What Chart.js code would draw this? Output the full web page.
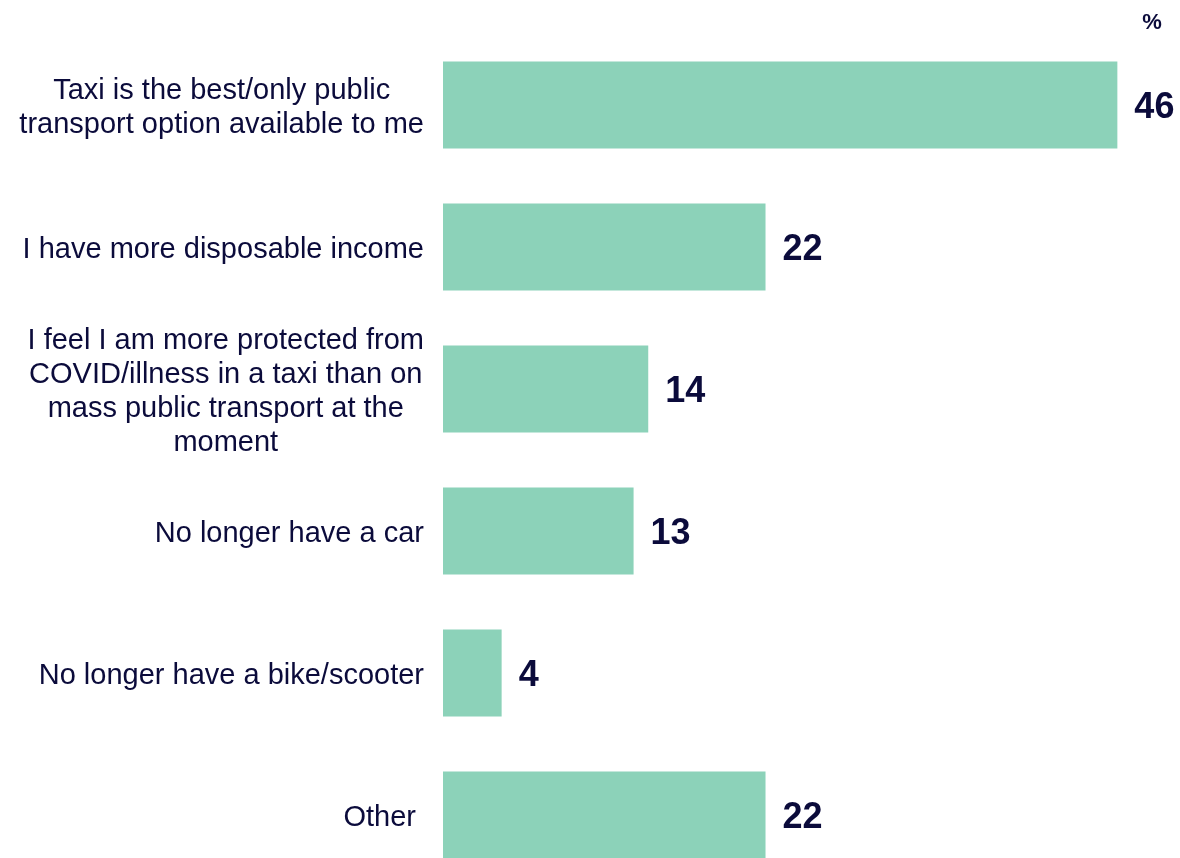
<!DOCTYPE html>
<html>
<head>
<meta charset="utf-8">
<script src="https://cdn.jsdelivr.net/npm/chart.js@4/dist/chart.umd.min.js"></script>
<style>
    html, body { margin: 0; padding: 0; background: #fff; overflow: hidden; }
    #wrap { position: relative; width: 1180px; height: 886px; }
</style>
</head>
<body>
<div id="wrap"><canvas id="reasonsChart"></canvas></div>
<script>
        // Data
        const categories = [
            ["Taxi is the best/only public", "transport option available to me"],
            ["I have more disposable income"],
            ["I feel I am more protected from", "COVID/illness in a taxi than on", "mass public transport at the", "moment"],
            ["No longer have a car"],
            ["No longer have a bike/scooter"],
            ["Other "]
        ];
        const values = [46, 22, 14, 13, 4, 22];
        const unitLabel = "%";

        const barColor = "#8cd2b9";
        const textColor = "#0b0b3b";
        const fontFamily = "'Liberation Sans', Arial, sans-serif";

        // Category labels: lines centred within each block, block right-aligned to the axis
        const categoryLabels = {
            id: "categoryLabels",
            afterDraw(chart) {
                const ctx = chart.ctx;
                const yScale = chart.scales.y;
                const rightEdge = yScale.right - 19;
                const lineHeight = 34;
                ctx.save();
                ctx.font = "29px " + fontFamily;
                ctx.fillStyle = textColor;
                ctx.textAlign = "center";
                ctx.textBaseline = "middle";
                categories.forEach((lines, i) => {
                    const widest = Math.max(...lines.map(l => ctx.measureText(l).width));
                    const cx = rightEdge - widest / 2;
                    const cy = yScale.getPixelForValue(i) + 3;
                    const startY = cy - (lines.length - 1) * lineHeight / 2;
                    lines.forEach((line, j) => {
                        ctx.fillText(line, cx, startY + j * lineHeight);
                    });
                });
                ctx.restore();
            }
        };

        // Bold value next to each bar, plus the "%" marker top right
        const valueLabels = {
            id: "valueLabels",
            afterDatasetsDraw(chart) {
                const ctx = chart.ctx;
                const meta = chart.getDatasetMeta(0);
                ctx.save();
                ctx.font = "bold 36px " + fontFamily;
                ctx.fillStyle = textColor;
                ctx.textAlign = "left";
                ctx.textBaseline = "middle";
                meta.data.forEach((bar, i) => {
                    ctx.fillText(String(values[i]), bar.x + 17, bar.y + 3);
                });
                ctx.font = "bold 22px " + fontFamily;
                ctx.textAlign = "center";
                ctx.fillText(unitLabel, 1152, 23);
                ctx.restore();
            }
        };

        const ctx = document.getElementById("reasonsChart").getContext("2d");

        new Chart(ctx, {
            type: "bar",
            data: {
                labels: categories,
                datasets: [{
                    data: values,
                    backgroundColor: barColor,
                    borderWidth: 0,
                    barPercentage: 0.613,
                    categoryPercentage: 1
                }]
            },
            options: {
                indexAxis: "y",
                responsive: true,
                maintainAspectRatio: false,
                animation: false,
                layout: {
                    padding: { top: 34, right: 4, bottom: 0, left: 0 }
                },
                plugins: {
                    legend: { display: false },
                    tooltip: { enabled: false }
                },
                scales: {
                    x: {
                        display: false,
                        min: 0,
                        max: 50
                    },
                    y: {
                        grid: { display: false, drawTicks: false },
                        border: { display: false },
                        ticks: { display: false },
                        afterFit: scale => { scale.width = 443; }
                    }
                }
            },
            plugins: [categoryLabels, valueLabels]
        });
</script>
</body>
</html>
